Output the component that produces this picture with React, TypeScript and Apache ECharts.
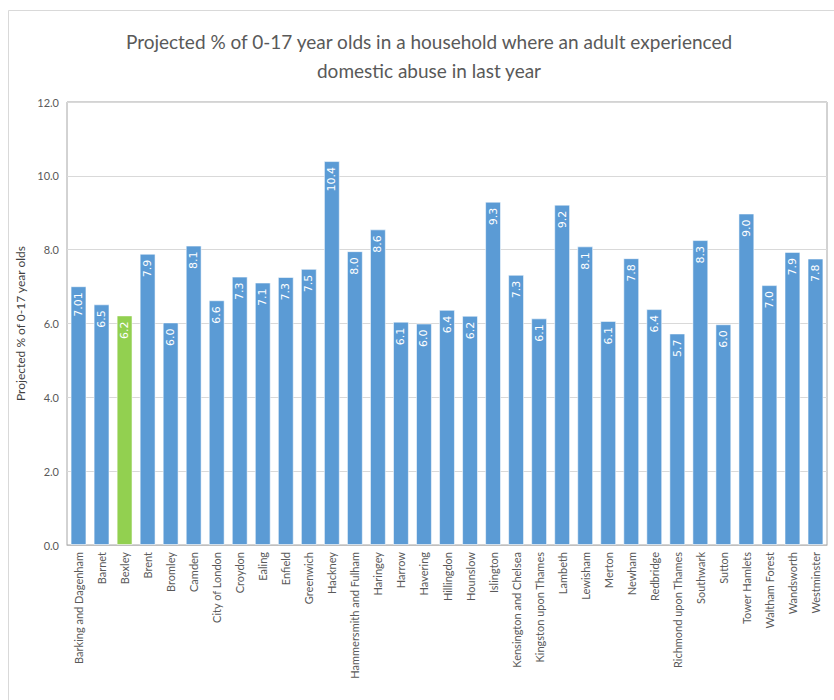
import React, { useEffect, useRef } from "react";
import * as echarts from "echarts";

const boroughs = [
  "Barking and Dagenham", "Barnet", "Bexley", "Brent", "Bromley", "Camden",
  "City of London", "Croydon", "Ealing", "Enfield", "Greenwich", "Hackney",
  "Hammersmith and Fulham", "Haringey", "Harrow", "Havering", "Hillingdon",
  "Hounslow", "Islington", "Kensington and Chelsea", "Kingston upon Thames",
  "Lambeth", "Lewisham", "Merton", "Newham", "Redbridge",
  "Richmond upon Thames", "Southwark", "Sutton", "Tower Hamlets",
  "Waltham Forest", "Wandsworth", "Westminster",
];

const values = [
  7.01, 6.52, 6.22, 7.89, 6.03, 8.11, 6.63, 7.27, 7.11, 7.26, 7.48, 10.4,
  7.96, 8.55, 6.05, 6.0, 6.37, 6.21, 9.3, 7.32, 6.14, 9.22, 8.09, 6.07,
  7.77, 6.39, 5.73, 8.26, 5.98, 8.98, 7.04, 7.94, 7.76,
];

const valueLabels = [
  "7.01", "6.5", "6.2", "7.9", "6.0", "8.1", "6.6", "7.3", "7.1", "7.3",
  "7.5", "10.4", "8.0", "8.6", "6.1", "6.0", "6.4", "6.2", "9.3", "7.3",
  "6.1", "9.2", "8.1", "6.1", "7.8", "6.4", "5.7", "8.3", "6.0", "9.0",
  "7.0", "7.9", "7.8",
];

const highlighted = "Bexley";

const yTicks = { min: 0, max: 12, interval: 2 };

const titleLines = [
  "Projected % of 0-17 year olds in a household where an adult experienced",
  "domestic abuse in last year",
];
const yAxisName = "Projected % of 0-17 year olds";

export default function App() {
  const ref = useRef<HTMLDivElement>(null);

  useEffect(() => {
    if (!ref.current) return;
    const chart = echarts.init(ref.current, undefined, { renderer: "svg" });
    chart.setOption({
      animation: false,
      backgroundColor: "#ffffff",
      title: {
        text: titleLines.join("\n"),
        left: 424,
        top: 22,
        textAlign: "center",
        textStyle: {
          fontFamily: "Lato",
          fontSize: 19,
          fontWeight: "normal",
          color: "#595959",
          lineHeight: 29,
        },
      },
      graphic: [
        {
          type: "rect",
          shape: { x: 8.5, y: 10.5, width: 840, height: 720 },
          style: { fill: "none", stroke: "#D9D9D9", lineWidth: 1 },
          silent: true,
        },
      ],
      grid: {
        left: 67,
        right: 7,
        top: 102,
        bottom: 155,
        show: true,
        borderColor: "#A6A6A6",
        borderWidth: 1,
      },
      xAxis: {
        type: "category",
        data: boroughs,
        axisTick: { show: false },
        axisLine: { lineStyle: { color: "#BFBFBF" } },
        axisLabel: {
          rotate: 90,
          interval: 0,
          margin: 7,
          fontFamily: "Lato",
          fontSize: 11,
          color: "#595959",
        },
      },
      yAxis: {
        type: "value",
        min: yTicks.min,
        max: yTicks.max,
        interval: yTicks.interval,
        name: yAxisName,
        nameLocation: "middle",
        nameGap: 38,
        nameTextStyle: {
          fontFamily: "Lato",
          fontSize: 12,
          color: "#404040",
        },
        axisLine: { show: false },
        axisTick: { show: false },
        axisLabel: {
          margin: 8,
          fontFamily: "Lato",
          fontSize: 11,
          color: "#595959",
          formatter: (v: number) => v.toFixed(1),
        },
        splitLine: { lineStyle: { color: "#D9D9D9" } },
      },
      series: [
        {
          type: "bar",
          barCategoryGap: "31%",
          data: values.map((v, i) => ({
            value: v,
            itemStyle: {
              color: boroughs[i] === highlighted ? "#92D050" : "#5B9BD5",
            },
          })),
          itemStyle: {
            borderColor: "rgba(255,255,255,0.55)",
            borderWidth: 1,
          },
          label: {
            show: true,
            position: "insideTop",
            rotate: 90,
            align: "right",
            verticalAlign: "middle",
            distance: 6,
            fontFamily: "DejaVu Sans",
            fontSize: 11,
            color: "#ffffff",
            formatter: (p: any) => valueLabels[p.dataIndex],
          },
        },
      ],
    });
    return () => chart.dispose();
  }, []);

  return (
    <div
      ref={ref}
      style={{ position: "fixed", left: 0, top: 0, width: 834, height: 700 }}
    />
  );
}
